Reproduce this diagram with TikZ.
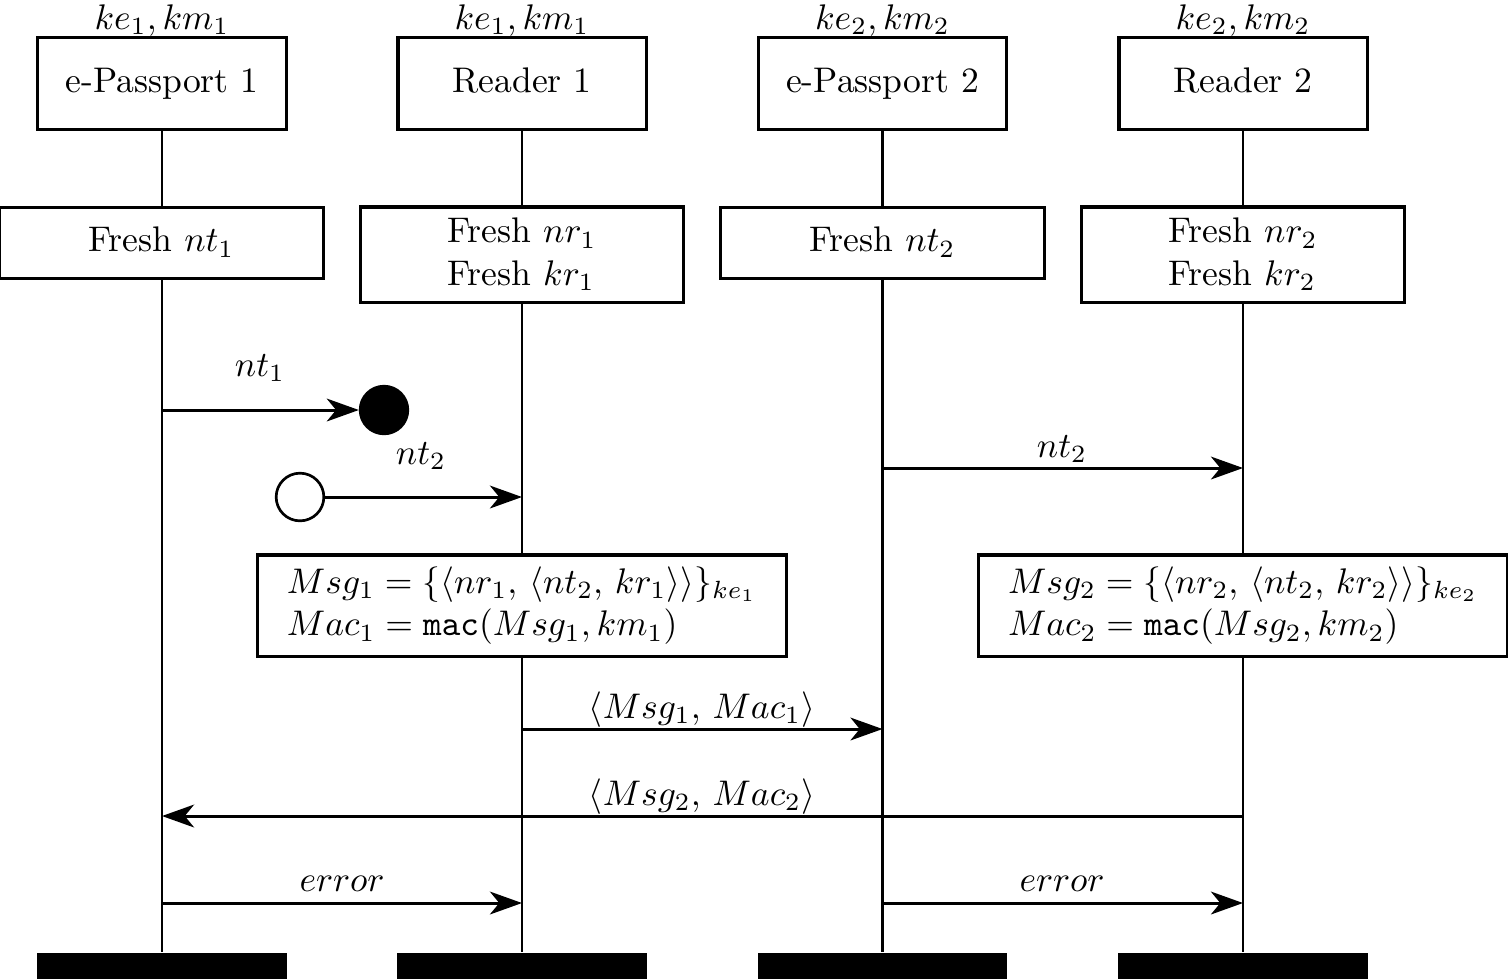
\documentclass[tikz,border=0pt]{standalone}
\usetikzlibrary{arrows.meta}
\begin{document}
\begin{tikzpicture}[x=0.281pt,y=-0.281pt,
  box/.style={draw, line width=0.85pt, fill=white, inner sep=1pt},
  inst/.style={box, minimum width=69.7pt, minimum height=26.1pt, text height=6.9pt, text depth=1.9pt},
  act/.style={box, minimum width=90.8pt, align=left},
  cond/.style={box, minimum width=148.4pt, minimum height=28.4pt, align=left},
  endbar/.style={fill=black, inner sep=0pt, minimum width=70pt, minimum height=7.3pt},
  life/.style={line width=0.7pt},
  msg/.style={line width=0.85pt, -{Stealth[length=9pt,width=6.4pt,inset=2.6pt]}},
  lbl/.style={anchor=base, inner sep=0pt},
  gate/.style={circle, draw, line width=0.75pt, minimum size=13.4pt, inner sep=0pt}
]
\useasboundingbox (0,0) rectangle (1508,978);

% instance heads
\node[inst] (h1) at (162,83.5) {e-Passport 1};
\node[inst] (h2) at (522,83.5) {Reader 1};
\node[inst] (h3) at (882.5,83.5) {e-Passport 2};
\node[inst] (h4) at (1243,83.5) {Reader 2};
\node[lbl] (k1) at (162,29) {$ke_1, km_1$};
\node[lbl] (k2) at (522,29) {$ke_1, km_1$};
\node[lbl] (k3) at (882.5,29) {$ke_2, km_2$};
\node[lbl] (k4) at (1243,29) {$ke_2, km_2$};

% end bars
\node[endbar] (e1) at (162,965.5) {};
\node[endbar] (e2) at (522,965.5) {};
\node[endbar] (e3) at (882.5,965.5) {};
\node[endbar] (e4) at (1243,965.5) {};

% lifelines
\draw[life] (h1.south) -- (e1.north);
\draw[life] (h2.south) -- (e2.north);
\draw[life] (h3.south) -- (e3.north);
\draw[life] (h4.south) -- (e4.north);

% actions
\node[act, minimum height=20.2pt, text height=6.9pt, text depth=1.9pt] (a1) at (161.5,243) {Fresh $nt_1$};
\node[act, minimum height=26.7pt] (a2) at (522,254.5) {Fresh $nr_1$\\Fresh $kr_1$};
\node[act, minimum height=20.2pt, text height=6.9pt, text depth=1.9pt] (a3) at (882.5,243) {Fresh $nt_2$};
\node[act, minimum height=26.7pt] (a4) at (1243,254.5) {Fresh $nr_2$\\Fresh $kr_2$};

% lost message nt1
\coordinate (s1) at (162,410);
\node[gate, fill=black] (lost) at (384,410) {};
\draw[msg] (s1) -- (lost.west);
\node[lbl] (l1) at (260,376) {$nt_1$};

% found message nt2
\node[gate, fill=white] (found) at (300,497) {};
\coordinate (t2) at (522,497);
\draw[msg] (found.east) -- (t2);
\node[lbl] (l2) at (421,464) {$nt_2$};

% nt2 e-Passport 2 -> Reader 2
\coordinate (s3) at (882.5,468);
\coordinate (t3) at (1243,468);
\draw[msg] (s3) -- (t3);
\node[lbl] (l3) at (1062,457) {$nt_2$};

% conditions
\node[cond] (c1) at (522,605.5) {$Msg_1 = \{\langle nr_1,\, \langle nt_2,\, kr_1\rangle\rangle\}_{ke_1}$\\$Mac_1 = \mathtt{mac}(Msg_1, km_1)$};
\node[cond] (c2) at (1243,605.5) {$Msg_2 = \{\langle nr_2,\, \langle nt_2,\, kr_2\rangle\rangle\}_{ke_2}$\\$Mac_2 = \mathtt{mac}(Msg_2, km_2)$};

% Msg1, Mac1
\coordinate (s4) at (522,729);
\coordinate (t4) at (882.5,729);
\draw[msg] (s4) -- (t4);
\node[lbl] (l4) at (702,718) {$\langle Msg_1,\, Mac_1\rangle$};

% Msg2, Mac2
\coordinate (s5) at (1243,816);
\coordinate (t5) at (162,816);
\draw[msg] (s5) -- (t5);
\node[lbl] (l5) at (702,805) {$\langle Msg_2,\, Mac_2\rangle$};

% errors
\coordinate (s6) at (162,903);
\coordinate (t6) at (522,903);
\draw[msg] (s6) -- (t6);
\node[lbl] (l6) at (342,891) {$error$};
\coordinate (s7) at (882.5,903);
\coordinate (t7) at (1243,903);
\draw[msg] (s7) -- (t7);
\node[lbl] (l7) at (1062,891) {$error$};
\end{tikzpicture}
\end{document}
